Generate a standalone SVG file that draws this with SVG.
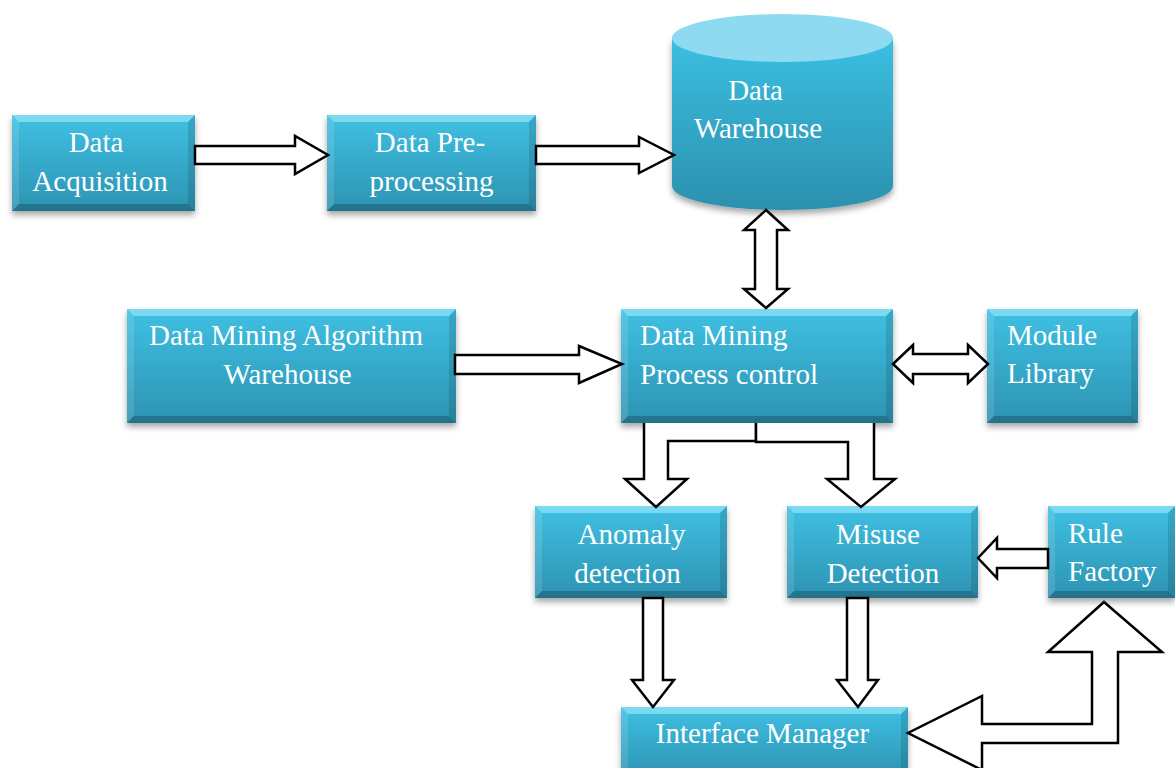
<svg xmlns="http://www.w3.org/2000/svg" width="1175" height="768" viewBox="0 0 1175 768">
<defs>
<linearGradient id="g" x1="0" y1="0" x2="0" y2="1">
<stop offset="0" stop-color="#3FC0E3"/>
<stop offset="1" stop-color="#2D93B2"/>
</linearGradient>
<linearGradient id="gc" x1="0" y1="0" x2="0" y2="1">
<stop offset="0" stop-color="#3BBFE2"/>
<stop offset="1" stop-color="#2C90AE"/>
</linearGradient>
<filter id="sh" x="-10%" y="-10%" width="120%" height="130%">
<feDropShadow dx="0" dy="4" stdDeviation="3" flood-color="#000" flood-opacity="0.35"/>
</filter>
</defs>
<style>
.box{fill:url(#g);filter:url(#sh)}
.bt{fill:#8FE3F7;opacity:0.75}
.bl{fill:#ffffff;opacity:0.12}
.br{fill:#000000;opacity:0.12}
.bb{fill:#000000;opacity:0.22}
.t{font-family:"Liberation Serif","Times New Roman",serif;font-size:29px;fill:#ffffff}
.m{text-anchor:middle}
.a{fill:#ffffff;stroke:#000000;stroke-width:2.5;stroke-linejoin:miter}
</style>
<rect width="1175" height="768" fill="#ffffff"/>

<g id="data-acquisition">
<rect class="box" x="12" y="115" width="183" height="96"/>
<polygon class="bt" points="12,115 195,115 188,122 19,122"/>
<polygon class="bl" points="12,115 19,122 19,204 12,211"/>
<polygon class="br" points="195,115 195,211 188,204 188,122"/>
<polygon class="bb" points="12,211 19,204 188,204 195,211"/>
<text class="t m" x="96" y="152">Data</text>
<text class="t m" x="100" y="191">Acquisition</text>
</g>

<g id="data-preprocessing">
<rect class="box" x="327" y="115" width="209" height="96"/>
<polygon class="bt" points="327,115 536,115 529,122 334,122"/>
<polygon class="bl" points="327,115 334,122 334,204 327,211"/>
<polygon class="br" points="536,115 536,211 529,204 529,122"/>
<polygon class="bb" points="327,211 334,204 529,204 536,211"/>
<text class="t m" x="430" y="152">Data Pre-</text>
<text class="t m" x="431.5" y="191">processing</text>
</g>

<g id="data-warehouse">
<path d="M672,38 L672,186 A110.5,24 0 0 0 893,186 L893,38 Z" fill="url(#gc)" filter="url(#sh)"/>
<ellipse cx="782.5" cy="38" rx="110.5" ry="24" fill="#8EDBF1"/>
<text class="t m" x="755.5" y="100">Data</text>
<text class="t m" x="758" y="138">Warehouse</text>
</g>

<g id="algorithm-warehouse">
<rect class="box" x="127" y="309" width="329" height="114"/>
<polygon class="bt" points="127,309 456,309 449,316 134,316"/>
<polygon class="bl" points="127,309 134,316 134,416 127,423"/>
<polygon class="br" points="456,309 456,423 449,416 449,316"/>
<polygon class="bb" points="127,423 134,416 449,416 456,423"/>
<text class="t m" x="286" y="345">Data Mining Algorithm</text>
<text class="t m" x="287.5" y="384">Warehouse</text>
</g>

<g id="process-control">
<rect class="box" x="621" y="309" width="272" height="114"/>
<polygon class="bt" points="621,309 893,309 886,316 628,316"/>
<polygon class="bl" points="621,309 628,316 628,416 621,423"/>
<polygon class="br" points="893,309 893,423 886,416 886,316"/>
<polygon class="bb" points="621,423 628,416 886,416 893,423"/>
<text class="t" x="640" y="345">Data Mining</text>
<text class="t" x="640" y="384">Process control</text>
</g>

<g id="module-library">
<rect class="box" x="987" y="309" width="151" height="114"/>
<polygon class="bt" points="987,309 1138,309 1131,316 994,316"/>
<polygon class="bl" points="987,309 994,316 994,416 987,423"/>
<polygon class="br" points="1138,309 1138,423 1131,416 1131,316"/>
<polygon class="bb" points="987,423 994,416 1131,416 1138,423"/>
<text class="t" x="1007" y="345">Module</text>
<text class="t" x="1007" y="383">Library</text>
</g>

<g id="anomaly-detection">
<rect class="box" x="535" y="506" width="192" height="92"/>
<polygon class="bt" points="535,506 727,506 720,513 542,513"/>
<polygon class="bl" points="535,506 542,513 542,591 535,598"/>
<polygon class="br" points="727,506 727,598 720,591 720,513"/>
<polygon class="bb" points="535,598 542,591 720,591 727,598"/>
<text class="t m" x="631.5" y="544">Anomaly</text>
<text class="t m" x="627.5" y="583">detection</text>
</g>

<g id="misuse-detection">
<rect class="box" x="787" y="506" width="191" height="92"/>
<polygon class="bt" points="787,506 978,506 971,513 794,513"/>
<polygon class="bl" points="787,506 794,513 794,591 787,598"/>
<polygon class="br" points="978,506 978,598 971,591 971,513"/>
<polygon class="bb" points="787,598 794,591 971,591 978,598"/>
<text class="t m" x="878" y="544">Misuse</text>
<text class="t m" x="883" y="583">Detection</text>
</g>

<g id="rule-factory">
<rect class="box" x="1048" y="506" width="127" height="92"/>
<polygon class="bt" points="1048,506 1175,506 1168,513 1055,513"/>
<polygon class="bl" points="1048,506 1055,513 1055,591 1048,598"/>
<polygon class="br" points="1175,506 1175,598 1168,591 1168,513"/>
<polygon class="bb" points="1048,598 1055,591 1168,591 1175,598"/>
<text class="t" x="1068" y="543">Rule</text>
<text class="t" x="1068" y="581">Factory</text>
</g>

<g id="interface-manager">
<rect class="box" x="621" y="707" width="287" height="70"/>
<polygon class="bt" points="621,707 908,707 901,714 628,714"/>
<polygon class="bl" points="621,707 628,714 628,768 621,768"/>
<polygon class="br" points="908,707 908,768 901,768 901,714"/>
<text class="t m" x="762.5" y="743">Interface Manager</text>
</g>

<g id="connectors">
<polygon class="a" points="195,146 295,146 295,136 328,155 295,174 295,164 195,164"/>
<polygon class="a" points="536,146 639,146 639,137 674,155 639,173 639,164 536,164"/>
<polygon class="a" points="455,355 579,355 579,346 622,364 579,383 579,374 455,374"/>
<polygon class="a" points="766,210 788,230 777,230 777,289 788,289 766,308 744,289 755,289 755,230 744,230"/>
<polygon class="a" points="893,364 913,345 913,354 968,354 968,345 988,364 968,383 968,374 913,374 913,383"/>
<polyline class="a" points="644,423 644,479 625,479 656,507 687,479 668,479 668,441 756,441 756,423"/>
<polyline class="a" points="756,423 756,442 848,442 848,479 827,479 861,507 895,479 874,479 874,423"/>
<polygon class="a" points="1048,549 997,549 997,538 978,558 997,578 997,568 1048,568"/>
<polygon class="a" points="643,598 663,598 663,680 674,680 653,707 632,680 643,680"/>
<polygon class="a" points="847,598 868,598 868,680 878,680 858,707 837,680 847,680"/>
<polygon class="a" points="1104,602 1162,652 1118,652 1118,743 982,743 982,770 908,733 982,696 982,724 1092,724 1092,652 1048,652"/>
</g>
</svg>
